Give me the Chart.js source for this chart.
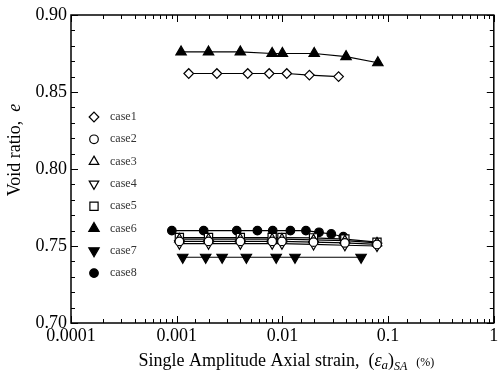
<!DOCTYPE html>
<html>
<head>
<meta charset="utf-8">
<script src="https://cdn.jsdelivr.net/npm/chart.js@4/dist/chart.umd.min.js"></script>
<style>
  body { margin: 0; background: #fff; }
  canvas { display: block; }
</style>
</head>
<body>
<canvas id="chart" width="501" height="376"></canvas>
<script>
// strain values (%)
const xCase1 = [0.0013, 0.0024, 0.0047, 0.0075, 0.011, 0.018, 0.034];
const yCase1 = [0.862, 0.862, 0.862, 0.862, 0.862, 0.861, 0.860];

const xMid = [0.00106, 0.002, 0.004, 0.008, 0.0099, 0.0197, 0.039, 0.0785];
const yCase2 = [0.753, 0.753, 0.753, 0.753, 0.753, 0.7525, 0.752, 0.751];
const yCase3 = [0.7545, 0.7545, 0.7545, 0.7545, 0.7545, 0.754, 0.7535, 0.752];
const yCase4 = [0.7515, 0.7515, 0.7515, 0.7515, 0.7515, 0.751, 0.7505, 0.750];
const yCase5 = [0.7555, 0.7555, 0.7555, 0.7555, 0.7555, 0.7553, 0.7545, 0.7525];

const xCase6 = [0.0011, 0.002, 0.004, 0.008, 0.01, 0.02, 0.04, 0.08];
const yCase6 = [0.876, 0.876, 0.876, 0.875, 0.875, 0.875, 0.873, 0.869];

const xCase7 = [0.00114, 0.00188, 0.00269, 0.00456, 0.00873, 0.01315, 0.0555];
const yCase7 = [0.7427, 0.7427, 0.7427, 0.7427, 0.7427, 0.7427, 0.7427];

const xCase8 = [0.0009, 0.0018, 0.0037, 0.0058, 0.0081, 0.0119, 0.0167, 0.0222, 0.029, 0.0377];
const yCase8 = [0.760, 0.760, 0.760, 0.760, 0.760, 0.760, 0.760, 0.7589, 0.7578, 0.756];

const caseNames = ["case1", "case2", "case3", "case4", "case5", "case6", "case7", "case8"];
const xTickLabels = ["0.0001", "0.001", "0.01", "0.1", "1"];
const yMin = 0.70, yMax = 0.90;

const SERIF = "'Liberation Serif', 'Times New Roman', serif";

const pts = (xs, ys) => xs.map((x, i) => ({ x: x, y: ys[i] }));

// marker look per case
const markers = [
  { style: "rectRot", fill: "#fff", radius: 4.8, rot: 0 },
  { style: "circle", fill: "#fff", radius: 4.3, rot: 0 },
  { style: "triangle", fill: "#fff", radius: 5.5, rot: 0 },
  { style: "triangle", fill: "#fff", radius: 5.5, rot: 180 },
  { style: "rect", fill: "#fff", radius: 5.8, rot: 0 },
  { style: "triangle", fill: "#000", radius: 6, rot: 0 },
  { style: "triangle", fill: "#000", radius: 6, rot: 180 },
  { style: "circle", fill: "#000", radius: 4.3, rot: 0 },
];

const seriesData = [
  pts(xCase1, yCase1),
  pts(xMid, yCase2),
  pts(xMid, yCase3),
  pts(xMid, yCase4),
  pts(xMid, yCase5),
  pts(xCase6, yCase6),
  pts(xCase7, yCase7),
  pts(xCase8, yCase8),
];

const datasets = caseNames.map((name, i) => ({
  label: name,
  data: seriesData[i],
  borderColor: "#000",
  borderWidth: 1.2,
  pointStyle: markers[i].style,
  pointRotation: markers[i].rot,
  pointRadius: markers[i].radius,
  pointBackgroundColor: markers[i].fill,
  pointBorderColor: "#000",
  pointBorderWidth: 1.2,
  showLine: true,
  fill: false,
  tension: 0,
}));

const isDecade = (v) => {
  const lg = Math.log10(v);
  return Math.abs(lg - Math.round(lg)) < 1e-6;
};

// inward ticks on all four sides + frame
const frameTicks = {
  id: "frameTicks",
  afterDraw(chart) {
    const { ctx, chartArea: a } = chart;
    const xs = chart.scales.x, ys = chart.scales.y;
    ctx.save();
    ctx.strokeStyle = "#000";
    ctx.lineWidth = 1.5;
    ctx.strokeRect(a.left, a.top, a.right - a.left, a.bottom - a.top);
    ctx.lineWidth = 1;
    ctx.beginPath();
    xs.ticks.forEach((t) => {
      const px = Math.round(xs.getPixelForValue(t.value)) + 0.5;
      const len = isDecade(t.value) ? 7 : 4;
      ctx.moveTo(px, a.bottom); ctx.lineTo(px, a.bottom - len);
      ctx.moveTo(px, a.top); ctx.lineTo(px, a.top + len);
    });
    for (let k = 0; k <= 20; k++) {
      const v = yMin + k * 0.01;
      const py = Math.round(ys.getPixelForValue(v)) + 0.5;
      const len = k % 5 === 0 ? 7 : 4;
      ctx.moveTo(a.left, py); ctx.lineTo(a.left + len, py);
      ctx.moveTo(a.right, py); ctx.lineTo(a.right - len, py);
    }
    ctx.stroke();
    ctx.restore();
  },
};

function drawMarker(ctx, m, x, y) {
  const opts = {
    pointStyle: m.style, rotation: m.rot, radius: m.radius, borderWidth: 1.2,
  };
  ctx.fillStyle = m.fill;
  ctx.strokeStyle = "#000";
  ctx.lineWidth = 1.2;
  Chart.helpers.drawPoint(ctx, opts, x, y);
}

// legend inside plot, left side
const innerLegend = {
  id: "innerLegend",
  afterDatasetsDraw(chart) {
    const { ctx, chartArea: a } = chart;
    ctx.save();
    ctx.font = "12px " + SERIF;
    ctx.textBaseline = "middle";
    ctx.textAlign = "left";
    caseNames.forEach((name, i) => {
      const y = 117 + i * 22.3;
      drawMarker(ctx, markers[i], a.left + 23, y);
      ctx.fillStyle = "#333";
      ctx.fillText(name, a.left + 39, y);
    });
    ctx.restore();
  },
};

// axis titles with italic / subscript parts
const axisTitles = {
  id: "axisTitles",
  afterDraw(chart) {
    const { ctx, chartArea: a } = chart;
    ctx.save();
    ctx.fillStyle = "#000";
    ctx.textBaseline = "alphabetic";

    // y title
    ctx.translate(20, 150);
    ctx.rotate(-Math.PI / 2);
    const yParts = [
      { t: "Void ratio,  ", f: "18px " + SERIF },
      { t: "e", f: "italic 18px " + SERIF },
    ];
    let w = 0;
    yParts.forEach((p) => { ctx.font = p.f; w += ctx.measureText(p.t).width; });
    let cx = -w / 2;
    yParts.forEach((p) => { ctx.font = p.f; ctx.fillText(p.t, cx, 0); cx += ctx.measureText(p.t).width; });
    ctx.setTransform(1, 0, 0, 1, 0, 0);

    // x title
    const xParts = [
      { t: "Single Amplitude Axial strain,  (", f: "18px " + SERIF, dy: 0 },
      { t: "\u03b5", f: "italic 18px " + SERIF, dy: 0 },
      { t: "a", f: "italic 13px " + SERIF, dy: 3 },
      { t: ")", f: "18px " + SERIF, dy: 0 },
      { t: "SA", f: "italic 12px " + SERIF, dy: 4 },
      { t: "   (%)", f: "12px " + SERIF, dy: 0 },
    ];
    w = 0;
    xParts.forEach((p) => { ctx.font = p.f; w += ctx.measureText(p.t).width; });
    cx = (a.left + a.right) / 2 - w / 2 + 4;
    xParts.forEach((p) => {
      ctx.font = p.f;
      ctx.fillText(p.t, cx, 366 + p.dy);
      cx += ctx.measureText(p.t).width;
    });
    ctx.restore();
  },
};

new Chart(document.getElementById("chart"), {
  type: "scatter",
  data: { datasets: datasets },
  options: {
    responsive: false,
    animation: false,
    devicePixelRatio: 1,
    layout: { padding: { top: 15, right: 6, left: 0, bottom: 0 } },
    plugins: {
      legend: { display: false },
      tooltip: { enabled: false },
    },
    scales: {
      x: {
        type: "logarithmic",
        min: 0.0001,
        max: 1,
        grid: { display: false, drawTicks: false },
        border: { display: false },
        ticks: {
          autoSkip: false,
          maxRotation: 0,
          padding: 2,
          color: "#000",
          font: { family: SERIF, size: 18 },
          callback: (v) => (isDecade(v) ? xTickLabels[Math.round(Math.log10(v)) + 4] : ""),
        },
        afterFit: (s) => { s.height = 53; },
      },
      y: {
        min: yMin,
        max: yMax,
        grid: { display: false, drawTicks: false },
        border: { display: false },
        ticks: {
          stepSize: 0.05,
          padding: 4,
          color: "#000",
          font: { family: SERIF, size: 18 },
          callback: (v) => v.toFixed(2),
        },
        afterFit: (s) => { s.width = 71; },
      },
    },
  },
  plugins: [frameTicks, innerLegend, axisTitles],
});
</script>
</body>
</html>
